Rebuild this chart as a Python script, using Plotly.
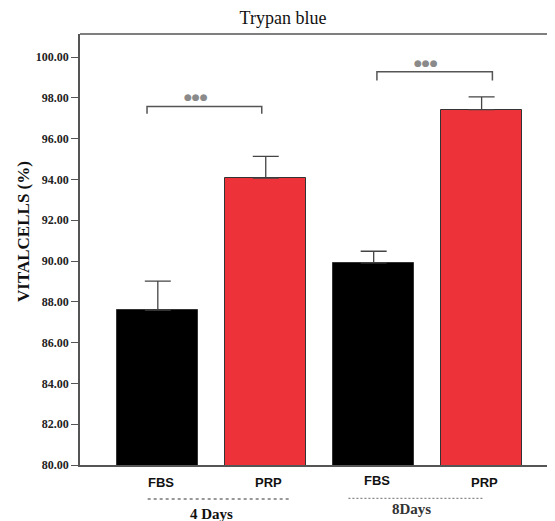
import plotly.graph_objects as go

groups = ["4 Days", "8Days"]
categories = ["FBS", "PRP", "FBS", "PRP"]
values = [87.59, 94.06, 89.91, 97.42]
errors = [1.42, 1.07, 0.57, 0.63]
colors = ["#000000", "#EE323A", "#000000", "#EE323A"]
y_ticks = [80, 82, 84, 86, 88, 90, 92, 94, 96, 98, 100]
y_ticklabels = ["<b>%.2f</b>" % v for v in y_ticks]
sig_text = "●●●"

xpos = list(range(len(categories)))

# page has an 8px body margin; the figure is sized to fit inside the window
W, H = 547, 513
L, R, T, B = 72, 0, 26, 56
PH = H - T - B  # plot height in px

fig = go.Figure()
fig.add_trace(go.Bar(
    x=xpos, y=values, width=0.75,
    marker=dict(color=colors, line=dict(color="#333333", width=1)),
    error_y=dict(type="data", array=errors, symmetric=False, arrayminus=[0] * 4,
                 color="#444444", thickness=1.3, width=13),
    showlegend=False,
))

serif = "Liberation Serif, Times New Roman, serif"
sans = "Liberation Sans, Arial, sans-serif"

fig.update_layout(
    width=W, height=H,
    margin=dict(l=L, r=R, t=T, b=B, autoexpand=False),
    plot_bgcolor="white", paper_bgcolor="white",
    title=dict(text="Trypan blue", x=275 / W, xanchor="center", y=1 - 10 / H, yanchor="middle",
               font=dict(family=serif, size=18, color="#111")),
    bargap=0,
    xaxis=dict(range=[-0.721, 3.68], showticklabels=False, ticks="", showgrid=False,
               zeroline=False, showline=True, linecolor="#555555", linewidth=1.5,
               automargin=False),
    yaxis=dict(range=[80, 101.13], tickvals=y_ticks, ticktext=y_ticklabels,
               ticks="outside", ticklen=7, tickcolor="#555555", tickwidth=1.3,
               tickfont=dict(family=serif, size=12, color="#222"),
               showgrid=False, zeroline=False, showline=True, linecolor="#555555", linewidth=1.5,
               automargin=False),
)

# y-axis title
fig.add_annotation(x=0, xref="paper", xshift=-56, xanchor="center",
                   y=1 - (232 - 34) / PH, yref="paper", yanchor="middle",
                   text="<b>VITALCELLS (%)</b>", textangle=-90, showarrow=False,
                   font=dict(family=serif, size=17, color="#111"))

# top frame line
fig.add_shape(type="line", xref="paper", yref="paper", x0=0, x1=1, y0=1, y1=1,
              line=dict(color="#555555", width=1.5))

# category labels
yshifts = [-17.5, -17.5, -15, -17.5]
for i, c in enumerate(categories):
    fig.add_annotation(x=xpos[i], xshift=3, y=0, yref="paper", yshift=yshifts[i], text="<b>%s</b>" % c,
                       showarrow=False, font=dict(family=sans, size=13, color="#111"),
                       yanchor="middle")

# group dashed lines and labels
fig.add_shape(type="line", xref="x", yref="paper", x0=-0.094, x1=1.24, y0=-34 / PH, y1=-34 / PH,
              line=dict(color="#777777", width=1.5, dash="3px,3px"))
fig.add_shape(type="line", xref="x", yref="paper", x0=1.766, x1=3.017, y0=-33.3 / PH, y1=-33.3 / PH,
              line=dict(color="#888888", width=1.3, dash="2px,2px"))
fig.add_annotation(x=0.5, y=0, yref="paper", yshift=-49, text="<b>%s</b>" % groups[0], showarrow=False,
                   font=dict(family=serif, size=15, color="#111"), yanchor="middle")
fig.add_annotation(x=2.35, y=0, yref="paper", yshift=-44, text="<b>%s</b>" % groups[1], showarrow=False,
                   font=dict(family=serif, size=15, color="#333"), yanchor="middle")

# significance brackets
brackets = [(-0.10, 0.963, 97.58, 97.22), (2.03, 3.10, 99.28, 98.85)]
for (xa, xb, yh, yl) in brackets:
    fig.add_shape(type="path", xref="x", yref="y",
                  path=f"M {xa},{yl} L {xa},{yh} L {xb},{yh} L {xb},{yl}",
                  line=dict(color="#555555", width=1.5))
    fig.add_annotation(x=(xa + xb) / 2 - 0.08, y=yh, yshift=9, text=sig_text, showarrow=False,
                       font=dict(family="DejaVu Sans", size=9, color="#8a8a8a"), yanchor="middle")

fig.write_html("out.html")
